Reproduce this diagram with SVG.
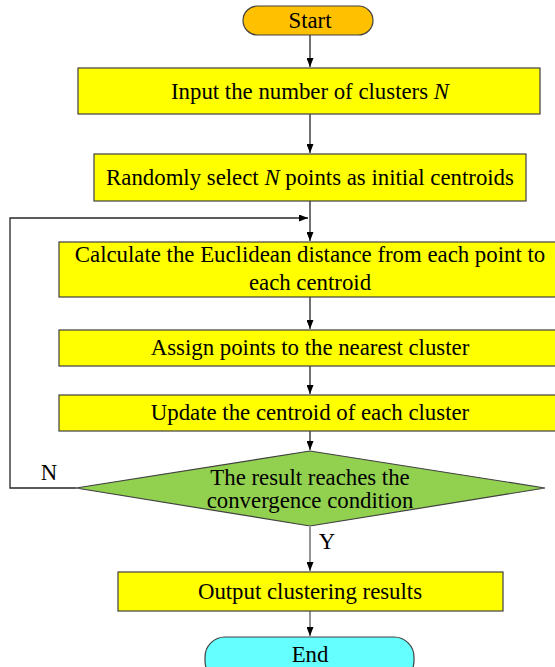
<svg xmlns="http://www.w3.org/2000/svg" width="555" height="667" viewBox="0 0 555 667">
<style>
.box{fill:#FFFF00;stroke:#404040;stroke-width:1.2}
.t{font-family:"Liberation Serif","Times New Roman",serif;font-size:22.8px;fill:#000;text-anchor:middle}
.c{stroke:#262626;stroke-width:1.3;fill:none}
.g{stroke:#595959;stroke-width:1.3;fill:none}
</style>
<defs>
<marker id="a" markerWidth="9" markerHeight="7" refX="9" refY="3.5" orient="auto" markerUnits="userSpaceOnUse">
<path d="M0,0 L9,3.5 L0,7 Z" fill="#000"/>
</marker>
</defs>
<rect width="555" height="667" fill="#fff"/>
<g id="connectors">
<line class="c" x1="310" y1="35" x2="310" y2="67" marker-end="url(#a)"/>
<line class="c" x1="310" y1="114" x2="310" y2="153" marker-end="url(#a)"/>
<line class="c" x1="310" y1="201" x2="310" y2="241" marker-end="url(#a)"/>
<polyline class="c" points="76,488 10,488 10,218 308,218" marker-end="url(#a)"/>
<line class="c" x1="310" y1="297" x2="310" y2="329" marker-end="url(#a)"/>
<line class="c" x1="310" y1="366" x2="310" y2="394" marker-end="url(#a)"/>
<line class="c" x1="310" y1="431" x2="310" y2="450" marker-end="url(#a)"/>
<line class="g" x1="310" y1="527" x2="310" y2="571" marker-end="url(#a)"/>
<line class="g" x1="310" y1="611" x2="310" y2="636" marker-end="url(#a)"/>
<text class="t" x="49" y="480">N</text>
<text class="t" x="327" y="549">Y</text>
</g>
<g id="start">
<rect x="243" y="6" width="130" height="29" rx="14.5" fill="#FFC000" stroke="#404040" stroke-width="1.2"/>
<text class="t" x="310" y="28">Start</text>
</g>
<g id="input">
<rect class="box" x="78" y="68" width="462" height="46"/>
<text class="t" x="310" y="99">Input the number of clusters <tspan font-style="italic">N</tspan></text>
</g>
<g id="random">
<rect class="box" x="94" y="154" width="432" height="47"/>
<text class="t" x="310" y="185">Randomly select <tspan font-style="italic">N</tspan> points as initial centroids</text>
</g>
<g id="calc">
<rect class="box" x="59" y="242" width="500" height="55"/>
<text class="t" x="310" y="262">Calculate the Euclidean distance from each point to</text>
<text class="t" x="310" y="290">each centroid</text>
</g>
<g id="assign">
<rect class="box" x="59" y="330" width="500" height="36"/>
<text class="t" x="310" y="355">Assign points to the nearest cluster</text>
</g>
<g id="update">
<rect class="box" x="59" y="395" width="500" height="36"/>
<text class="t" x="310" y="420">Update the centroid of each cluster</text>
</g>
<g id="decision">
<polygon points="310,451 545,488 310,526 76,488" fill="#92D050" stroke="#404040" stroke-width="1.2"/>
<text class="t" x="310" y="485">The result reaches the</text>
<text class="t" x="310" y="508">convergence condition</text>
</g>
<g id="output">
<rect class="box" x="118" y="572" width="385" height="39"/>
<text class="t" x="310" y="599">Output clustering results</text>
</g>
<g id="end">
<rect x="205" y="637" width="209" height="44" rx="20" fill="#66FFFF" stroke="#404040" stroke-width="1.2"/>
<text class="t" x="310" y="662">End</text>
</g>
</svg>
